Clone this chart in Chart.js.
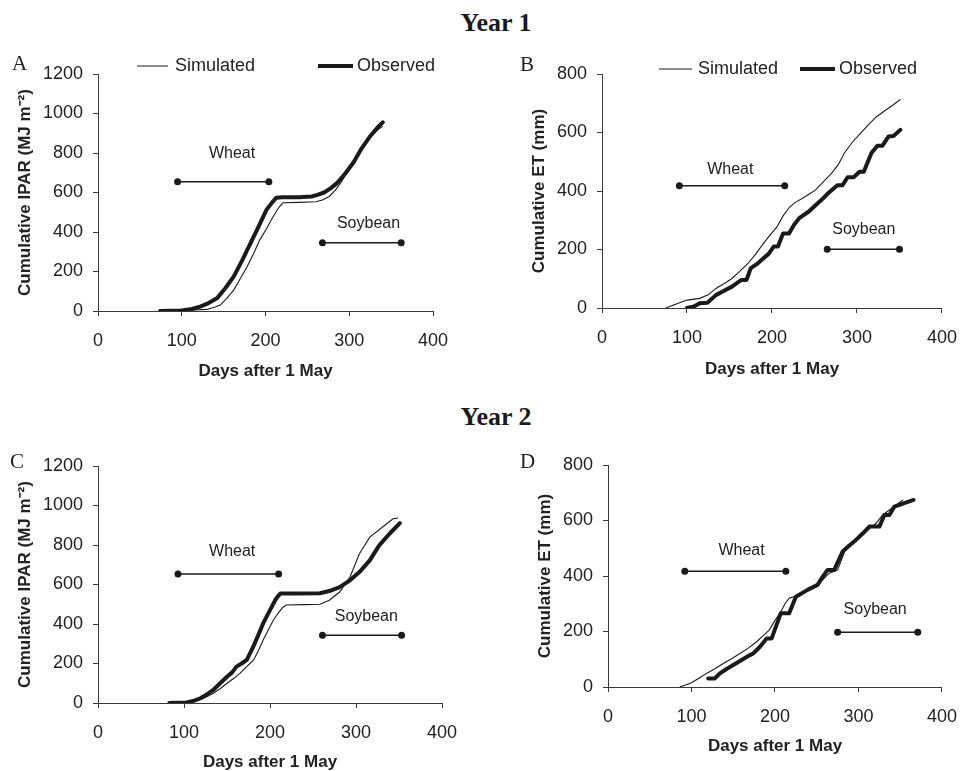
<!DOCTYPE html>
<html>
<head>
<meta charset="utf-8">
<script src="https://cdn.jsdelivr.net/npm/chart.js@4.4.1/dist/chart.umd.min.js"></script>
<style>
  html, body { margin: 0; padding: 0; background: #fff; overflow: hidden; }
  body { width: 971px; height: 771px; position: relative; }
  canvas { position: absolute; }
  .year { position: absolute; left: 0; width: 992px; text-align: center; font-family: 'Liberation Serif', 'Times New Roman', serif; font-weight: bold; font-size: 26px; line-height: 26px; color: #1a1a1a; }
</style>
</head>
<body>
<div class="year" style="top:10px">Year 1</div>
<div class="year" style="top:404px">Year 2</div>
<canvas id="chart-a"></canvas>
<canvas id="chart-b"></canvas>
<canvas id="chart-c"></canvas>
<canvas id="chart-d"></canvas>
<script>
// ---- data (days after 1 May, cumulative values) ----
const simDaysA = [74, 100, 115, 130, 140, 146, 154, 162, 170, 178, 186, 193, 201, 209, 216, 221, 240, 260, 268, 276, 283, 290, 297, 305, 315, 325, 333, 340]
const simA = [0, 3, 5, 8, 20, 30, 65, 106, 165, 224, 292, 359, 415, 477, 525, 548, 550, 553, 562, 580, 610, 650, 700, 752, 820, 880, 915, 935]
const obsDaysA = [74, 100, 112, 122, 132, 142, 152, 162, 172, 182, 192, 201, 208, 213, 220, 240, 255, 262, 270, 278, 286, 295, 305, 315, 325, 335, 340]
const obsA = [0, 3, 10, 22, 40, 64, 115, 174, 255, 343, 430, 511, 550, 574, 576, 576, 580, 588, 600, 622, 650, 695, 752, 825, 885, 935, 955]

const simDaysB = [75, 85, 100, 115, 125, 134, 143, 153, 162, 172, 181, 190, 198, 206, 213, 221, 228, 236, 243, 251, 260, 270, 278, 285, 294, 304, 313, 323, 333, 342, 351]
const simB = [0, 11, 27, 33, 45, 67, 82, 101, 125, 153, 185, 221, 250, 278, 315, 346, 362, 375, 388, 403, 430, 460, 490, 529, 565, 597, 625, 654, 675, 693, 713]
const obsDaysB = [100, 108, 115, 124, 134, 143, 153, 159, 164, 170, 175, 183, 190, 196, 202, 207, 213, 220, 226, 232, 243, 250, 258, 267, 277, 283, 289, 296, 303, 308, 317, 324, 330, 337, 343, 351]
const obsB = [0, 5, 16, 18, 44, 58, 73, 86, 96, 96, 136, 152, 170, 185, 210, 210, 255, 255, 285, 307, 329, 348, 369, 395, 420, 420, 447, 447, 466, 466, 530, 555, 555, 586, 588, 609]

const simDaysC = [83, 103, 118, 126, 134, 142, 150, 158, 165, 172, 181, 187, 192, 198, 204, 210, 215, 219, 240, 258, 269, 281, 293, 304, 316, 331, 343, 349]
const simC = [0, 5, 15, 30, 49, 72, 100, 125, 150, 180, 218, 270, 319, 370, 420, 458, 485, 496, 498, 500, 520, 562, 638, 756, 840, 891, 933, 937]
const obsDaysC = [83, 103, 112, 119, 127, 134, 142, 150, 156, 161, 167, 173, 180, 186, 192, 200, 207, 212, 230, 258, 269, 281, 293, 304, 316, 327, 339, 351]
const obsC = [0, 3, 12, 24, 45, 66, 100, 133, 155, 184, 200, 218, 280, 340, 403, 470, 528, 555, 555, 556, 567, 587, 621, 663, 722, 798, 857, 911]

const simDaysD = [86, 98, 108, 118, 128, 138, 148, 158, 168, 178, 186, 193, 200, 206, 212, 217, 229, 241, 253, 260, 265, 275, 285, 295, 305, 313, 321, 329, 337, 345, 353]
const simD = [0, 13, 30, 49, 66, 85, 102, 121, 140, 163, 185, 205, 240, 266, 300, 320, 331, 350, 374, 395, 410, 422, 500, 525, 548, 570, 590, 620, 638, 655, 674]
const obsDaysD = [120, 128, 134, 142, 150, 160, 170, 174, 182, 190, 196, 207, 217, 225, 239, 251, 257, 263, 271, 281, 289, 297, 305, 313, 325, 331, 337, 343, 354, 366]
const obsD = [31, 31, 49, 65, 79, 97, 115, 121, 145, 175, 175, 266, 266, 325, 350, 368, 397, 422, 422, 488, 510, 530, 553, 578, 578, 620, 620, 650, 662, 674]

// crop seasons: [start day, end day], level on the y axis, label anchor [day, value]
const cropNames = ['Wheat', 'Soybean']
const cropSpanA = [[95, 204], [268, 362]]
const cropLevelA = [655, 345]
const cropLabelA = [[160, 798], [323, 441]]
const cropSpanB = [[91, 215], [265, 350]]
const cropLevelB = [418, 201]
const cropLabelB = [[151, 474], [308, 267]]
const cropSpanC = [[93, 210], [261, 353]]
const cropLevelC = [653, 343]
const cropLabelC = [[156, 765], [312, 440]]
const cropSpanD = [[92, 213], [275, 371]]
const cropLevelD = [417, 197]
const cropLabelD = [[160, 491], [320, 280]]

const seriesNames = ['Simulated', 'Observed']
const xTicks = [0, 400, 100]   // min, max, step
const iparTicks = [0, 1200, 200]
const etTicks = [0, 800, 200]

// ---- styling ----
const sans = "'Liberation Sans', Arial, sans-serif"
const serif = "'Liberation Serif', 'Times New Roman', serif"
const inkColor = '#1a1a1a'
const textColor = '#222'
const axisColor = '#3a3a3a'

function toPoints(days, vals){
  return days.map((d, i) => ({ x: d, y: vals[i] }))
}

const overlayPlugin = {
  id: 'overlay',
  afterDraw(chart){
    const o = chart.options.plugins.overlay
    const ctx = chart.ctx
    const xs = chart.scales.x
    const ys = chart.scales.y
    ctx.save()
    ctx.fillStyle = textColor

    // crop labels
    ctx.font = '16px ' + sans
    ctx.textAlign = 'center'
    ctx.textBaseline = 'middle'
    o.cropLabels.forEach((p, i) => {
      ctx.fillText(cropNames[i], xs.getPixelForValue(p[0]), ys.getPixelForValue(p[1]))
    })

    // panel letter
    ctx.font = '21px ' + serif
    ctx.textAlign = 'left'
    ctx.textBaseline = 'alphabetic'
    ctx.fillText(o.letter[0], o.letter[1], o.letter[2])

    // legend
    if (o.legend) {
      const lg = o.legend
      ctx.font = '18px ' + sans
      ctx.textBaseline = 'middle'
      ctx.strokeStyle = inkColor
      const items = [[lg.sim, 1], [lg.obs, 4]]
      items.forEach((it, i) => {
        const [x0, x1, tx] = it[0]
        ctx.lineWidth = it[1]
        ctx.beginPath()
        ctx.moveTo(x0, lg.y)
        ctx.lineTo(x1, lg.y)
        ctx.stroke()
        ctx.fillText(seriesNames[i], tx, lg.y + 0.5)
      })
    }
    ctx.restore()
  }
}

function makePanel(id, g, data){
  const canvas = document.getElementById(id)
  canvas.width = g.w
  canvas.height = g.h
  canvas.style.left = g.left + 'px'
  canvas.style.top = g.top + 'px'
  canvas.style.width = g.w + 'px'
  canvas.style.height = g.h + 'px'

  const cropSets = data.cropSpan.map((s, i) => ({
    label: cropNames[i],
    data: [{ x: s[0], y: data.cropLevel[i] }, { x: s[1], y: data.cropLevel[i] }],
    borderColor: inkColor,
    backgroundColor: inkColor,
    borderWidth: 1.5,
    pointRadius: 3.5,
    pointBorderWidth: 0,
    pointBackgroundColor: inkColor
  }))

  new Chart(canvas.getContext('2d'), {
    type: 'line',
    data: {
      datasets: [
        {
          label: seriesNames[0],
          data: toPoints(data.simDays, data.sim),
          borderColor: inkColor,
          borderWidth: 1.1,
          pointRadius: 0,
          tension: 0
        },
        {
          label: seriesNames[1],
          data: toPoints(data.obsDays, data.obs),
          borderColor: inkColor,
          borderWidth: 4,
          pointRadius: 0,
          tension: 0,
          borderJoinStyle: 'round',
          borderCapStyle: 'round'
        },
        ...cropSets
      ]
    },
    options: {
      responsive: false,
      devicePixelRatio: 1,
      animation: false,
      layout: { padding: { left: 0, top: g.padTop, right: g.padRight, bottom: 0 } },
      plugins: {
        legend: { display: false },
        tooltip: { enabled: false },
        overlay: {
          letter: g.letter,
          legend: g.legend,
          cropLabels: data.cropLabel
        }
      },
      scales: {
        x: {
          type: 'linear',
          min: xTicks[0],
          max: xTicks[1],
          ticks: { stepSize: xTicks[2], color: textColor, font: { family: sans, size: 18 }, padding: 14, maxRotation: 0, callback: v => String(v) },
          grid: { drawOnChartArea: false, drawTicks: true, tickLength: 5, color: axisColor },
          border: { color: axisColor, width: 1 },
          title: {
            display: true,
            text: 'Days after 1 May',
            color: textColor,
            font: { family: sans, size: 17, weight: 'bold' },
            padding: { top: 0, bottom: g.xTitlePad }
          },
          afterFit: s => { s.height = g.xAxisH }
        },
        y: {
          type: 'linear',
          min: data.yTicks[0],
          max: data.yTicks[1],
          ticks: { stepSize: data.yTicks[2], color: textColor, font: { family: sans, size: 18 }, padding: 10, callback: v => String(v) },
          grid: { drawOnChartArea: false, drawTicks: true, tickLength: 5, color: axisColor },
          border: { color: axisColor, width: 1 },
          title: {
            display: true,
            text: data.yTitle,
            color: textColor,
            font: { family: sans, size: 17, weight: 'bold' },
            padding: { top: g.yTitlePad, bottom: 0 }
          },
          afterFit: s => { s.width = g.yAxisW }
        }
      }
    },
    plugins: [overlayPlugin]
  })
}

const iparTitle = 'Cumulative IPAR (MJ m\u207B\u00B2)'
const etTitle = 'Cumulative ET (mm)'

makePanel('chart-a',
  { left: 0, top: 40, w: 485, h: 345, padTop: 34, padRight: 52, yAxisW: 98, xAxisH: 74, yTitlePad: 15, xTitlePad: 3,
    letter: ['A', 12, 30], legend: { y: 26, sim: [137, 168, 175], obs: [318, 353, 357] } },
  { simDays: simDaysA, sim: simA, obsDays: obsDaysA, obs: obsA, cropSpan: cropSpanA, cropLevel: cropLevelA, cropLabel: cropLabelA, yTicks: iparTicks, yTitle: iparTitle })

makePanel('chart-b',
  { left: 490, top: 40, w: 481, h: 345, padTop: 34, padRight: 16, yAxisW: 112, xAxisH: 77, yTitlePad: 39, xTitlePad: 5,
    letter: ['B', 30, 31], legend: { y: 29, sim: [169, 202, 208], obs: [310, 345, 349] } },
  { simDays: simDaysB, sim: simB, obsDays: obsDaysB, obs: obsB, cropSpan: cropSpanB, cropLevel: cropLevelB, cropLabel: cropLabelB, yTicks: etTicks, yTitle: etTitle })

makePanel('chart-c',
  { left: 0, top: 425, w: 485, h: 352, padTop: 41, padRight: 43, yAxisW: 98, xAxisH: 74, yTitlePad: 15, xTitlePad: 4,
    letter: ['C', 10, 43], legend: null },
  { simDays: simDaysC, sim: simC, obsDays: obsDaysC, obs: obsC, cropSpan: cropSpanC, cropLevel: cropLevelC, cropLabel: cropLabelC, yTicks: iparTicks, yTitle: iparTitle })

makePanel('chart-d',
  { left: 490, top: 425, w: 481, h: 346, padTop: 40, padRight: 28, yAxisW: 118, xAxisH: 84, yTitlePad: 45, xTitlePad: 14,
    letter: ['D', 30, 43], legend: null },
  { simDays: simDaysD, sim: simD, obsDays: obsDaysD, obs: obsD, cropSpan: cropSpanD, cropLevel: cropLevelD, cropLabel: cropLabelD, yTicks: etTicks, yTitle: etTitle })
</script>
</body>
</html>
